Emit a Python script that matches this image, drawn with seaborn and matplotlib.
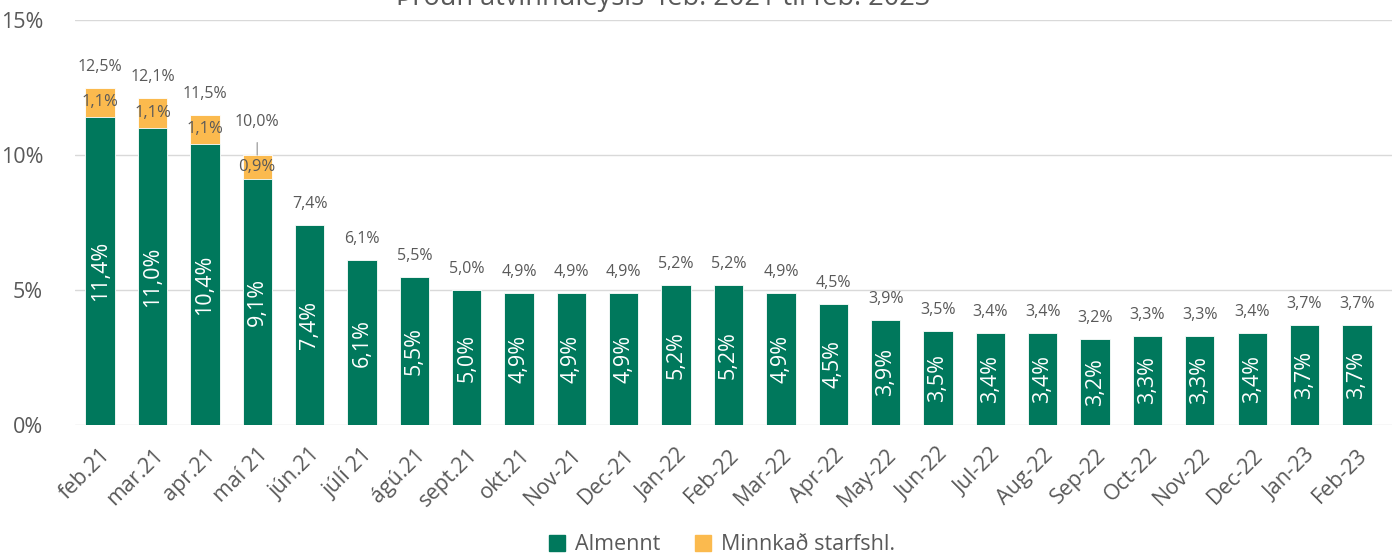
import seaborn as sns
import matplotlib.pyplot as plt
import pandas as pd

months = ['feb.21', 'mar.21', 'apr.21', 'maí 21', 'jún.21', 'júlí 21', 'ágú.21', 'sept.21',
          'okt.21', 'Nov-21', 'Dec-21', 'Jan-22', 'Feb-22', 'Mar-22', 'Apr-22', 'May-22',
          'Jun-22', 'Jul-22', 'Aug-22', 'Sep-22', 'Oct-22', 'Nov-22', 'Dec-22', 'Jan-23', 'Feb-23']
almennt = [11.4, 11.0, 10.4, 9.1, 7.4, 6.1, 5.5, 5.0, 4.9, 4.9, 4.9, 5.2, 5.2, 4.9, 4.5, 3.9,
           3.5, 3.4, 3.4, 3.2, 3.3, 3.3, 3.4, 3.7, 3.7]
minnkad = [1.1, 1.1, 1.1, 0.9] + [0.0] * 21
yticks = [0, 5, 10, 15]

GREEN = '#00785C'
ORANGE = '#FBBA4E'
GREY = '#595959'

df = pd.DataFrame({'month': months, 'almennt': almennt, 'minnkad': minnkad})
df['total'] = (df['almennt'] + df['minnkad']).round(1)

sns.set_theme(style='white')
plt.rcParams['font.family'] = ['Open Sans', 'DejaVu Sans']

fig = plt.figure(figsize=(13.99, 5.55), dpi=100)
ax = fig.add_axes([75 / 1399, 1 - 425 / 555, (1392 - 75) / 1399, 405 / 555])

# stacked: draw totals in orange, then the general part in green on top
sns.barplot(data=df, x='month', y='total', color=ORANGE, saturation=1, width=0.56,
            edgecolor='white', linewidth=0.6, ax=ax)
sns.barplot(data=df, x='month', y='almennt', color=GREEN, saturation=1, width=0.56,
            edgecolor='white', linewidth=0.6, ax=ax)

fmt = lambda v: f'{v:.1f}%'.replace('.', ',')

for i, row in df.iterrows():
    # value of green part, inside the bar
    ax.text(i, row['almennt'] / 2, fmt(row['almennt']), rotation=90, ha='center', va='center',
            color='white', fontsize=15.5)
    # orange part
    if row['minnkad'] > 0:
        ax.text(i, row['almennt'] + row['minnkad'] / 2, fmt(row['minnkad']), ha='center',
                va='center', color=GREY, fontsize=12)
    # total above
    if i == 3:
        ax.annotate(fmt(row['total']), xy=(i, row['total']), xytext=(0, 24),
                    textcoords='offset points', ha='center', va='center', color=GREY, fontsize=11.5,
                    arrowprops=dict(arrowstyle='-', color='#A6A6A6', lw=1, shrinkA=7, shrinkB=0))
    else:
        ax.annotate(fmt(row['total']), xy=(i, row['total']), xytext=(0, 15),
                    textcoords='offset points', ha='center', va='center', color=GREY, fontsize=11.5)

ax.set_ylim(0, 15)
ax.set_xlim(-0.48, 24.67)
ax.set_yticks(yticks)
ax.set_yticklabels([f'{t}%' for t in yticks], color=GREY, fontsize=15.5)
ax.yaxis.grid(True, color='#D9D9D9', lw=1)
ax.set_axisbelow(True)
ax.tick_params(axis='y', length=0, pad=23)
ax.tick_params(axis='x', length=0, pad=14)
plt.setp(ax.get_xticklabels(), rotation=45, ha='right', rotation_mode='anchor',
         color=GREY, fontsize=15.5)
ax.set_xlabel('')
ax.set_ylabel('')
sns.despine(ax=ax, left=True, bottom=True)

# title is clipped at the top edge, as in the source image
fig.text(663 / 1399, 1 - 5 / 555, 'Þróun atvinnuleysis  feb. 2021 til feb. 2023', ha='center',
         va='baseline', color=GREY, fontsize=19.5)

handles = [plt.Rectangle((0, 0), 1, 1, color=GREEN), plt.Rectangle((0, 0), 1, 1, color=ORANGE)]
fig.legend(handles, ['Almennt', 'Minnkað starfshl.'], loc='center', ncol=2,
           bbox_to_anchor=(722 / 1399, 1 - 545 / 555), frameon=False, fontsize=15.5,
           handlelength=0.75, handleheight=0.75, handletextpad=0.45, columnspacing=1.6,
           labelcolor=GREY)

fig.savefig('out.png', dpi=100)
